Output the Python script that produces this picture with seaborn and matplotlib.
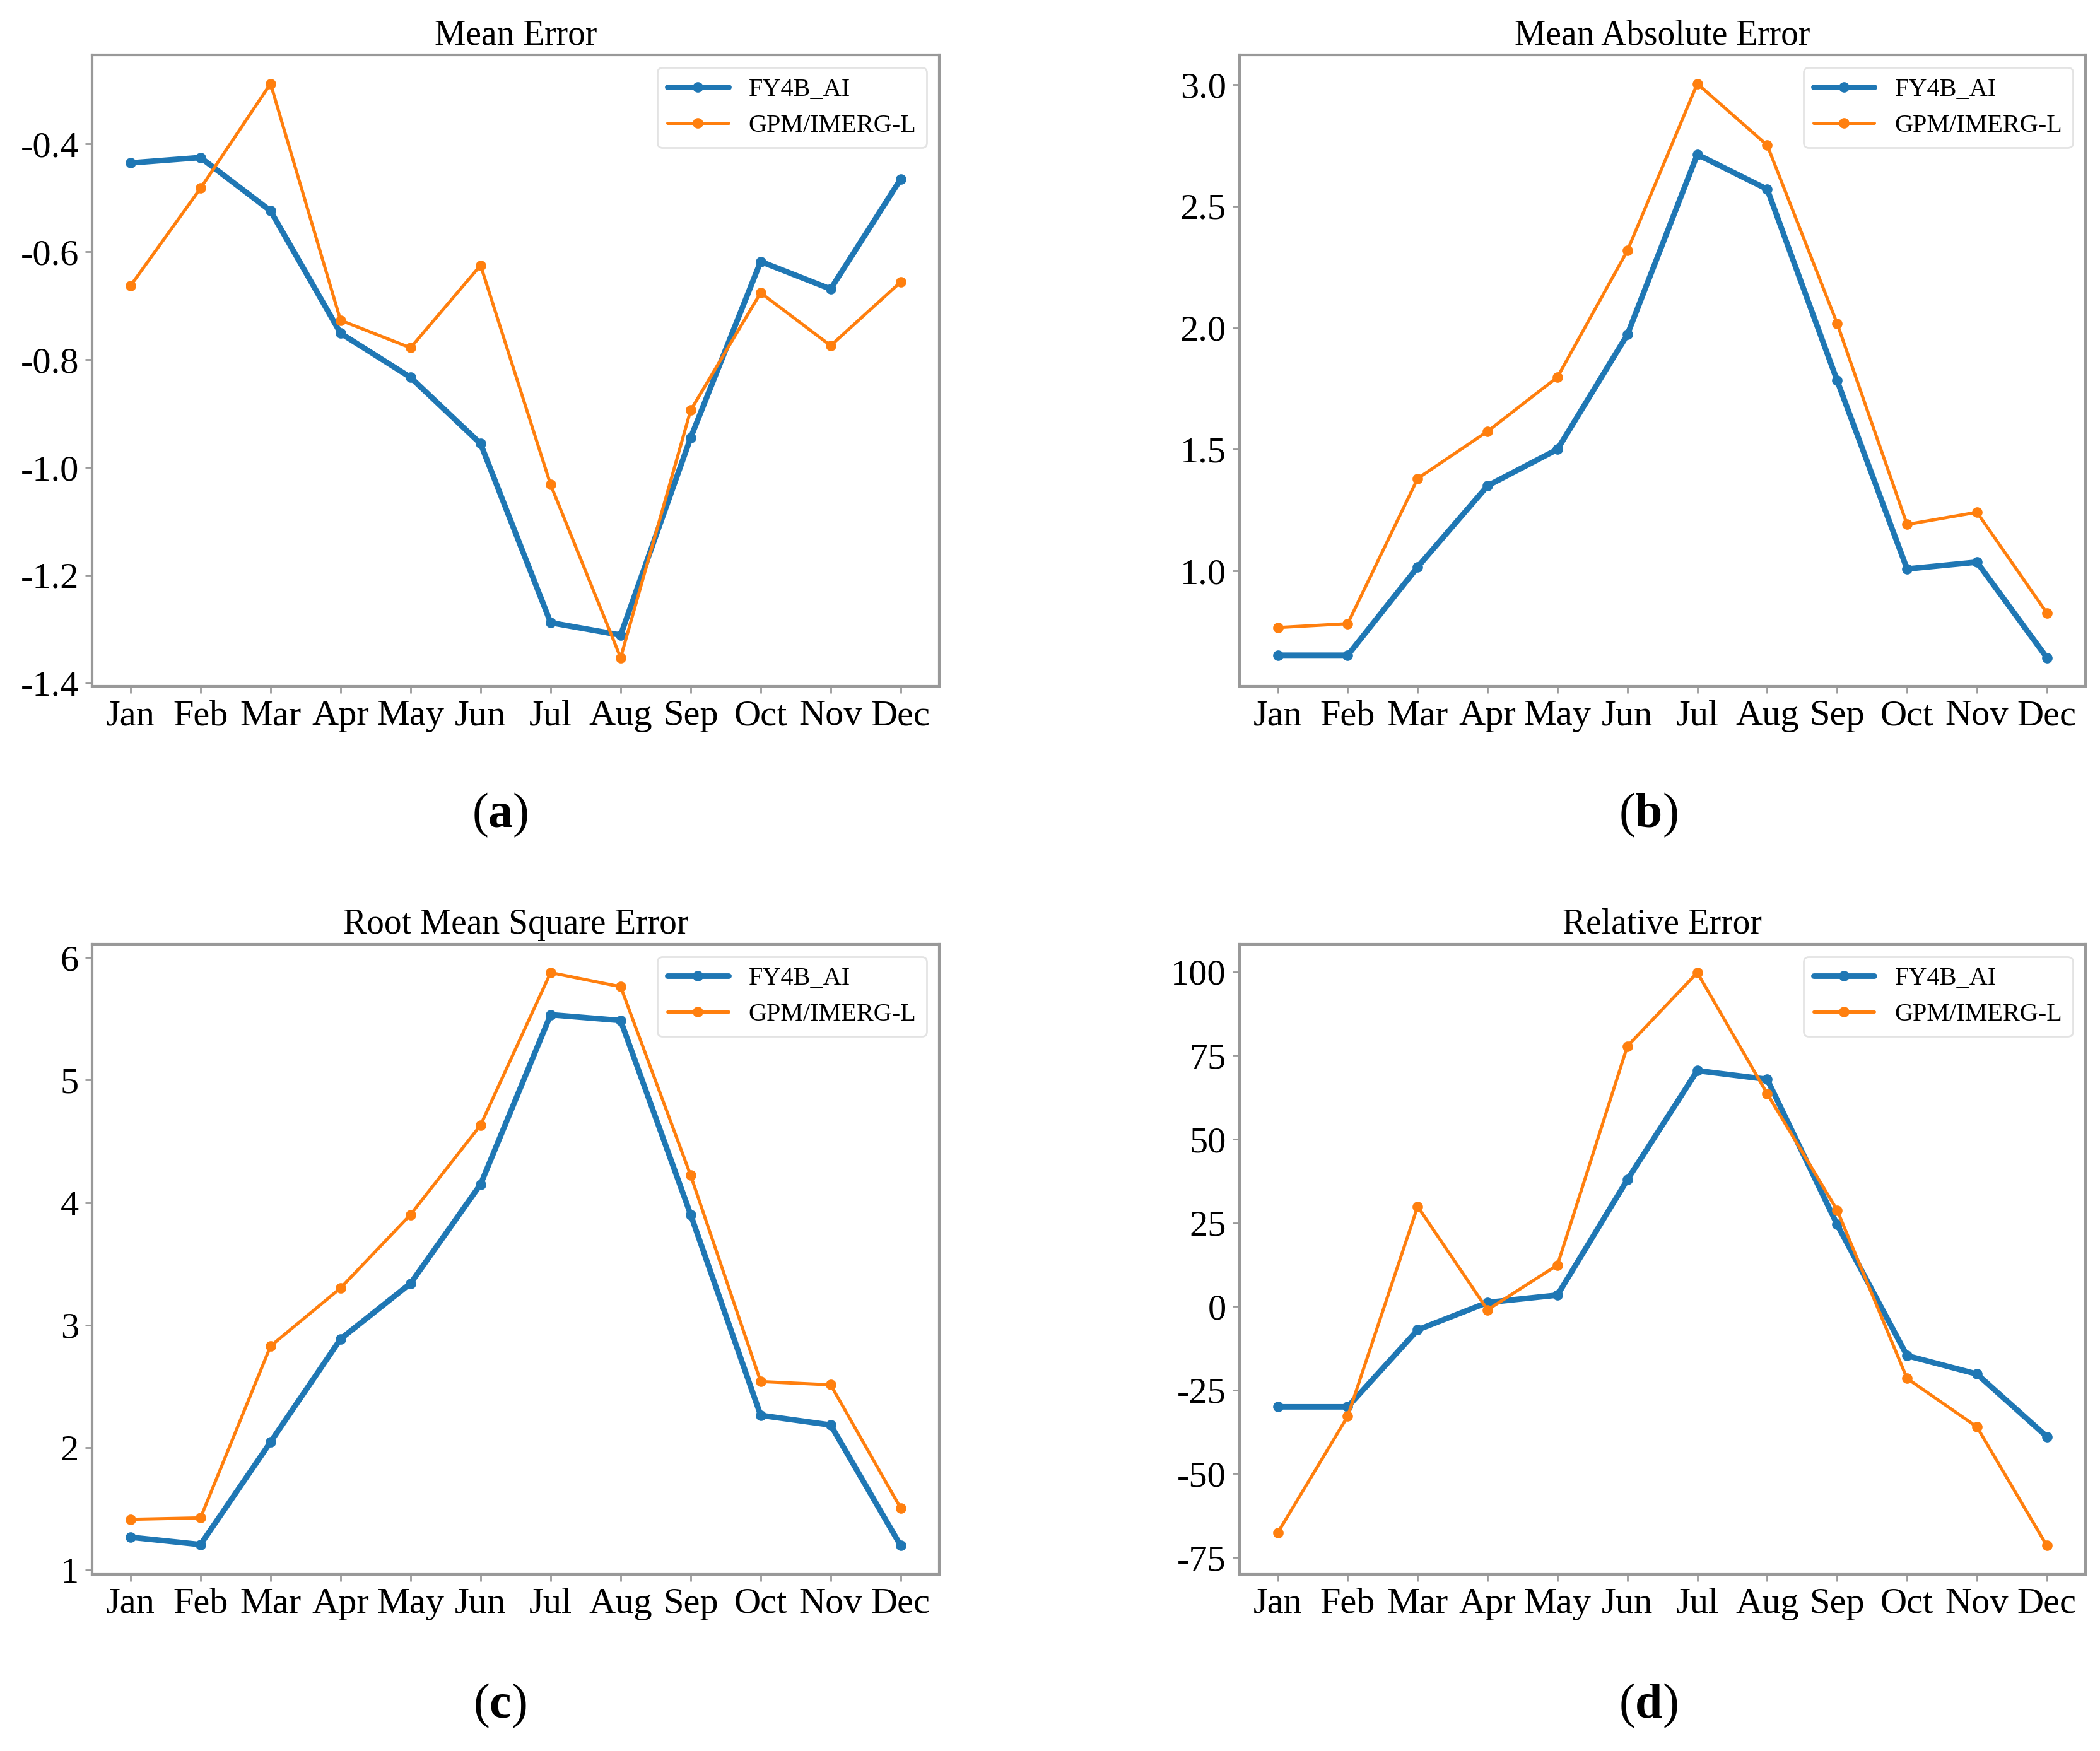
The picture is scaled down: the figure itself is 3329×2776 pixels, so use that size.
import matplotlib
matplotlib.use('Agg')
import matplotlib.pyplot as plt
import seaborn as sns
import pandas as pd

months = ['Jan', 'Feb', 'Mar', 'Apr', 'May', 'Jun', 'Jul', 'Aug', 'Sep', 'Oct', 'Nov', 'Dec']

# Mean Error
me_fy4b = [-0.435, -0.425, -0.524, -0.751, -0.833, -0.956, -1.288, -1.311, -0.945, -0.618, -0.669, -0.465]
me_gpm = [-0.663, -0.482, -0.288, -0.727, -0.778, -0.625, -1.032, -1.353, -0.894, -0.676, -0.774, -0.656]

# Mean Absolute Error
mae_fy4b = [0.653, 0.653, 1.016, 1.35, 1.50, 1.972, 2.713, 2.57, 1.783, 1.008, 1.036, 0.643]
mae_gpm = [0.767, 0.783, 1.38, 1.574, 1.797, 2.317, 3.004, 2.751, 2.018, 1.191, 1.241, 0.827]

# Root Mean Square Error
rmse_fy4b = [1.269, 1.209, 2.046, 2.887, 3.341, 4.15, 5.534, 5.487, 3.903, 2.264, 2.185, 1.20]
rmse_gpm = [1.415, 1.427, 2.829, 3.303, 3.903, 4.633, 5.878, 5.763, 4.223, 2.54, 2.513, 1.506]

# Relative Error
re_fy4b = [-30.0, -30.0, -7.0, 1.2, 3.4, 37.9, 70.5, 67.9, 24.5, -14.7, -20.2, -38.9]
re_gpm = [-67.6, -32.8, 29.9, -1.0, 12.4, 77.8, 99.8, 63.6, 28.8, -21.5, -36.0, -71.5]

titles = ['Mean Error', 'Mean Absolute Error', 'Root Mean Square Error', 'Relative Error']
panel_labels = ['a', 'b', 'c', 'd']
series = [(me_fy4b, me_gpm), (mae_fy4b, mae_gpm), (rmse_fy4b, rmse_gpm), (re_fy4b, re_gpm)]

sns.set_style('ticks')
plt.rcParams['font.family'] = ['Liberation Serif', 'DejaVu Serif']
plt.rcParams['mathtext.fontset'] = 'custom'
plt.rcParams['mathtext.rm'] = 'Liberation Serif'
plt.rcParams['mathtext.bf'] = 'Liberation Serif:bold'
plt.rcParams['axes.unicode_minus'] = False
plt.rcParams['text.color'] = 'black'
plt.rcParams['xtick.labelcolor'] = 'black'
plt.rcParams['ytick.labelcolor'] = 'black'
plt.rcParams['axes.titlecolor'] = 'black'

fig = plt.figure(figsize=(16.65, 13.88), dpi=200)

# axes boxes in figure fractions
boxes = [
    [0.0438, 0.608, 0.4033, 0.3606],
    [0.590, 0.608, 0.4027, 0.3606],
    [0.0438, 0.1009, 0.4033, 0.360],
    [0.590, 0.1009, 0.4027, 0.360],
]
label_pos = [(0.238, 0.5346), (0.7845, 0.5346), (0.238, 0.026), (0.7845, 0.026)]

for i in range(4):
    ax = fig.add_axes(boxes[i])
    fy4b, gpm = series[i]
    df = pd.DataFrame({'month': months, 'FY4B_AI': fy4b, 'GPM/IMERG-L': gpm})
    df['x'] = range(len(months))
    sns.lineplot(data=df, x='x', y='FY4B_AI', ax=ax, color='#1f77b4', linewidth=3.2,
                 marker='o', markersize=6, markeredgewidth=0, label='FY4B_AI')
    sns.lineplot(data=df, x='x', y='GPM/IMERG-L', ax=ax, color='#ff7f0e', linewidth=1.8,
                 marker='o', markersize=6, markeredgewidth=0, label='GPM/IMERG-L')
    ax.set_xticks(df['x'])
    ax.set_xticklabels(months)
    ax.set_xlabel('')
    ax.set_ylabel('')
    ax.set_title(titles[i], fontsize=20, color='black')
    ax.tick_params(axis='both', labelsize=21, color='#999999', length=4, width=1,
                   labelcolor='black')
    for sp in ax.spines.values():
        sp.set_color('#999999')
        sp.set_linewidth(1.5)
    leg = ax.legend(loc='upper right', fontsize=14.5, framealpha=0.8, edgecolor='#dddddd',
                    handlelength=2.4)
    for t in leg.get_texts():
        t.set_color('black')
    fig.text(label_pos[i][0], label_pos[i][1], r'($\mathbf{' + panel_labels[i] + '}$)',
             fontsize=28, ha='center', va='center', color='black')

fig.savefig('out.png', dpi=200)
